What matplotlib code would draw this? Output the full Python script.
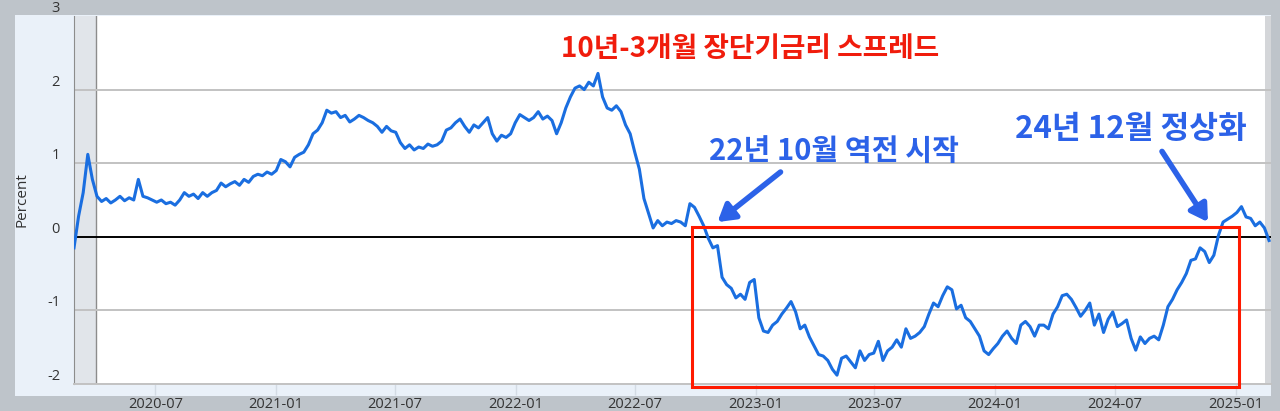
import numpy as np
import pandas as pd
import matplotlib
matplotlib.use('Agg')
import matplotlib.pyplot as plt
import matplotlib.dates as mdates
from matplotlib.patches import Rectangle
from matplotlib import rcParams

rcParams['font.family'] = ['Open Sans', 'DejaVu Sans']

# T10Y3M 주간 값 (2020-02-28부터 7일 간격)
start_date = '2020-02-28'
spread = [
    -0.15, 0.28, 0.60, 1.12, 0.78, 0.55, 0.48, 0.52, 0.46, 0.50,
    0.55, 0.49, 0.53, 0.50, 0.78, 0.55, 0.53, 0.50, 0.47, 0.50,
    0.45, 0.47, 0.43, 0.50, 0.60, 0.55, 0.58, 0.52, 0.60, 0.55,
    0.60, 0.63, 0.73, 0.68, 0.72, 0.75, 0.70, 0.78, 0.74, 0.82,
    0.85, 0.83, 0.88, 0.85, 0.90, 1.05, 1.02, 0.95, 1.08, 1.12,
    1.15, 1.25, 1.40, 1.45, 1.55, 1.72, 1.68, 1.70, 1.62, 1.65,
    1.56, 1.60, 1.65, 1.62, 1.58, 1.55, 1.50, 1.42, 1.50, 1.44,
    1.42, 1.28, 1.20, 1.25, 1.18, 1.22, 1.20, 1.26, 1.23, 1.25,
    1.30, 1.45, 1.48, 1.55, 1.60, 1.50, 1.42, 1.52, 1.48, 1.55,
    1.62, 1.40, 1.30, 1.38, 1.35, 1.40, 1.55, 1.66, 1.62, 1.58,
    1.62, 1.70, 1.60, 1.64, 1.58, 1.40, 1.55, 1.75, 1.90, 2.02,
    2.05, 2.00, 2.10, 2.05, 2.22, 1.90, 1.75, 1.72, 1.78, 1.70,
    1.52, 1.40, 1.15, 0.92, 0.52, 0.32, 0.12, 0.22, 0.15, 0.20,
    0.18, 0.22, 0.20, 0.15, 0.45, 0.40, 0.28, 0.15, -0.02, -0.15,
    -0.12, -0.55, -0.65, -0.70, -0.83, -0.78, -0.85, -0.62, -0.58, -1.10,
    -1.28, -1.30, -1.20, -1.15, -1.05, -0.97, -0.88, -1.02, -1.25, -1.20,
    -1.36, -1.48, -1.60, -1.62, -1.68, -1.80, -1.88, -1.65, -1.62, -1.70,
    -1.78, -1.55, -1.68, -1.60, -1.58, -1.42, -1.68, -1.55, -1.50, -1.40,
    -1.50, -1.25, -1.38, -1.35, -1.30, -1.22, -1.05, -0.90, -0.95, -0.80,
    -0.68, -0.72, -0.98, -0.93, -1.10, -1.15, -1.25, -1.35, -1.55, -1.60,
    -1.52, -1.45, -1.35, -1.28, -1.38, -1.45, -1.20, -1.15, -1.22, -1.35,
    -1.20, -1.20, -1.25, -1.05, -0.95, -0.80, -0.78, -0.85, -0.96, -1.08,
    -1.00, -0.90, -1.20, -1.05, -1.30, -1.12, -1.02, -1.22, -1.18, -1.13,
    -1.38, -1.54, -1.36, -1.45, -1.38, -1.35, -1.40, -1.20, -0.95, -0.85,
    -0.72, -0.62, -0.50, -0.32, -0.30, -0.15, -0.20, -0.35, -0.25, 0.02,
    0.20, 0.24, 0.28, 0.33, 0.41, 0.27, 0.25, 0.15, 0.20, 0.12,
    -0.05,
]
dates = pd.date_range(start_date, periods=len(spread), freq='7D')

y_ticks = [-2, -1, 0, 1, 2, 3]
x_start, x_end = pd.Timestamp('2020-02-28'), pd.Timestamp('2025-02-24')
recession = (pd.Timestamp('2020-02-01'), pd.Timestamp('2020-04-01'))

fig = plt.figure(figsize=(12.8, 4.11), dpi=100)
fig.patch.set_facecolor('#bec4ca')

# 연한 파란 패널
panel = Rectangle((15 / 1280, 15 / 411), 1256 / 1280, 381 / 411,
                  transform=fig.transFigure, facecolor='#eaf1f9',
                  edgecolor='none', zorder=-5)
fig.add_artist(panel)

ax = fig.add_axes([74 / 1280, 27 / 411, 1197 / 1280, 368 / 411])
ax.set_facecolor('white')

ax.axvspan(recession[0], recession[1], color='#e1e5ea', zorder=0.5, lw=0)
ax.axvline(recession[1], color='#8c8c8c', lw=1, zorder=0.6)
ax.axvspan(pd.Timestamp('2025-02-15'), x_end, color='#d4d6d9', zorder=0.5, lw=0)

for v in [-1, 1, 2]:
    ax.axhline(v, color='#c2c2c2', lw=1.4, zorder=1)
ax.axhline(0, color='black', lw=1.4, zorder=2)

ax.plot(dates, spread, color='#1a6ee0', lw=2.2, zorder=3)

ax.set_xlim(x_start, x_end)
ax.set_ylim(-2, 3)
ax.set_yticks(y_ticks)
ax.set_yticklabels([str(v) for v in y_ticks])
ax.xaxis.set_major_locator(mdates.MonthLocator(bymonth=[1, 7]))
ax.xaxis.set_major_formatter(mdates.DateFormatter('%Y-%m'))
ax.tick_params(axis='y', length=0, pad=10, labelsize=10.5, labelcolor='#333333')
ax.tick_params(axis='x', length=8, width=1, color='#d3dbe4', pad=1,
               labelsize=10.5, labelcolor='#333333')
plt.setp(ax.get_yticklabels(), va='bottom')

for side in ['top', 'right']:
    ax.spines[side].set_visible(False)
ax.spines['left'].set_color('#8c8c8c')
ax.spines['bottom'].set_color('#c2c2c2')
ax.spines['bottom'].set_linewidth(1.4)

fig.text(22 / 1280, 211 / 411, 'Percent', rotation=90, ha='center', va='center',
         fontsize=11, color='#333333')

# 주석
kfont = ['Noto Sans CJK KR', 'DejaVu Sans']
ax.text(pd.Timestamp('2022-12-23'), 2.55, '10년-3개월 장단기금리 스프레드',
        family=kfont, fontweight='heavy', fontsize=20, color='#f01c0c',
        ha='center', va='center', zorder=5)
ax.text(pd.Timestamp('2023-05-01'), 1.16, '22년 10월 역전 시작',
        family=kfont, fontweight='heavy', fontsize=21, color='#2c62e8',
        ha='center', va='center', zorder=5)
ax.text(pd.Timestamp('2024-07-25'), 1.46, '24년 12월 정상화',
        family=kfont, fontweight='heavy', fontsize=22.5, color='#2c62e8',
        ha='center', va='center', zorder=5)

arrow = dict(arrowstyle='-|>,head_length=1.0,head_width=0.6', color='#2c62e8',
             lw=4, shrinkA=0, shrinkB=0)
ax.annotate('', xy=(pd.Timestamp('2022-11-04'), 0.20),
            xytext=(pd.Timestamp('2023-02-08'), 0.88), arrowprops=arrow, zorder=5)
ax.annotate('', xy=(pd.Timestamp('2024-11-20'), 0.20),
            xytext=(pd.Timestamp('2024-09-11'), 1.16), arrowprops=arrow, zorder=5)

# 빨간 박스
x0 = mdates.date2num(pd.Timestamp('2022-09-26'))
x1 = mdates.date2num(pd.Timestamp('2025-01-06'))
ax.add_patch(Rectangle((x0, -2.04), x1 - x0, 2.04 + 0.136, fill=False,
                       edgecolor='#ff1a00', lw=2.2, clip_on=False, zorder=4))

fig.savefig('out.png', dpi=100, facecolor=fig.get_facecolor())
